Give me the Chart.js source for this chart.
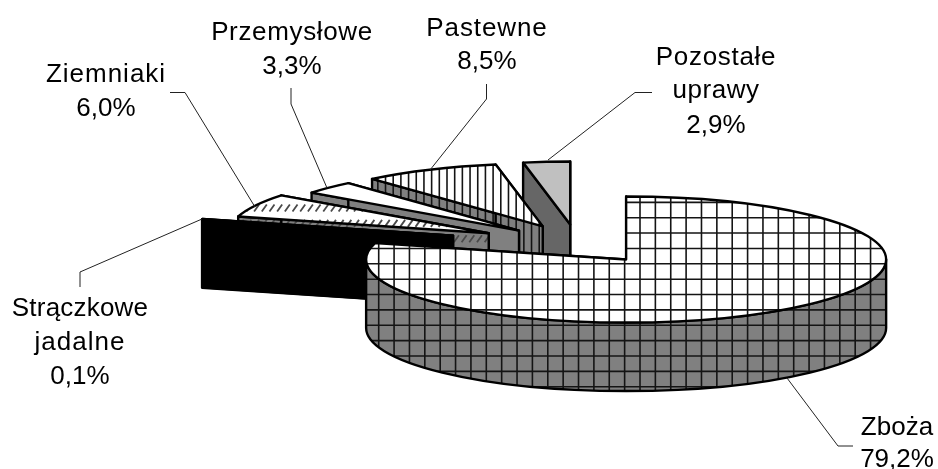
<!DOCTYPE html>
<html><head><meta charset="utf-8">
<style>html,body{margin:0;padding:0;background:#fff}canvas{display:block}</style>
<script src="https://cdn.jsdelivr.net/npm/chart.js@4/dist/chart.umd.js"></script>
</head><body>
<canvas id="c" width="938" height="469"></canvas>
<script>
// Data
const categories = ['Zboża','Strączkowe jadalne','Ziemniaki','Przemysłowe','Pastewne','Pozostałe uprawy'];
const shares = [79.2,0.1,6.0,3.3,8.5,2.9];

// Slice styling
const explosion = [80,129,99,80,80,80];
const topFills  = ['#ffffff','#000000','#ffffff','#ffffff','#ffffff','#c0c0c0'];
const wallFills = ['#808080','#000000','#808080','#808080','#808080','#666666'];
const patterns  = ['grid','none','hatch','none','stripes','none'];

// Label layout: lines after the name, then the value
const labelLines = [['Zboża'],['Strączkowe','jadalne'],['Ziemniaki'],['Przemysłowe'],['Pastewne'],['Pozostałe','uprawy']];
const labelSpacing = [[0],[0.2,1],[1],[0.65],[0.9],[0.7,0.5]];
const labelCenters = [897,80,106,292,487,716];
const labelBaselines = [
  [435,467],[316,350,384],[82,116],[40,74],[36,69],[65,98,133]
];
const leaders = [
  [[787,378],[838,446],[853,446]],
  [[80,287],[80,272],[202,219]],
  [[170,92.5],[185,92.5],[255,207]],
  [[291,88],[291,104],[327,188]],
  [[486.5,84],[486.5,99],[430,170]],
  [[652,92.5],[635,92.5],[548,160]]
];

const RX = 260, RY = 63, DEPTH = 68.5, VK = 64 / 262;
const W = 938, H = 469, GRID = 15.37;

function paintPattern(ctx, kind) {
  ctx.save();
  if (kind === 'grid') {
    ctx.strokeStyle = '#141414'; ctx.lineWidth = 1.6;
    ctx.beginPath();
    for (let x = 640 - 42 * GRID; x < W; x += GRID) { ctx.moveTo(x, 0); ctx.lineTo(x, H); }
    for (let y = 217.7 - 15 * GRID; y < H; y += GRID) { ctx.moveTo(0, y); ctx.lineTo(W, y); }
    ctx.stroke();
  } else if (kind === 'stripes') {
    ctx.strokeStyle = '#141414'; ctx.lineWidth = 1.6;
    ctx.beginPath();
    for (let x = 447 - 58 * GRID / 2; x < W; x += GRID / 2) { ctx.moveTo(x, 0); ctx.lineTo(x, H); }
    ctx.stroke();
  } else if (kind === 'hatch') {
    ctx.strokeStyle = '#4a4a4a'; ctx.lineWidth = 1.8;
    ctx.beginPath();
    for (let y = 208 - 15 * GRID; y < H; y += GRID) {
      for (let x = 3; x < W; x += GRID / 2) {
        ctx.moveTo(x - 2.5, y + 3.5); ctx.lineTo(x + 2.5, y - 3.5);
      }
    }
    ctx.stroke();
  }
  ctx.restore();
}

function face(ctx, path, fill, kind) {
  ctx.save();
  ctx.beginPath(); path(); ctx.fillStyle = fill; ctx.fill();
  ctx.clip();
  paintPattern(ctx, kind);
  ctx.restore();
  ctx.beginPath(); path();
  ctx.strokeStyle = '#000'; ctx.lineWidth = 2.4; ctx.lineJoin = 'round'; ctx.stroke();
}

class Arc3D extends Chart.ArcElement {
  draw(ctx) {
    const p = this.getProps(['x','y','startAngle','endAngle']);
    const i = this.sliceIndex;
    const mid = (p.startAngle + p.endAngle) / 2;
    const X = p.x + Math.cos(mid) * explosion[i];
    const Y = p.y + Math.sin(mid) * explosion[i] * VK;
    const kind = patterns[i];
    const edge = a => [X + Math.cos(a) * RX, Y + Math.sin(a) * RY];
    // radial cut faces
    [p.startAngle, p.endAngle].forEach(a => {
      const e = edge(a);
      face(ctx, () => {
        ctx.moveTo(X, Y); ctx.lineTo(e[0], e[1]);
        ctx.lineTo(e[0], e[1] + DEPTH); ctx.lineTo(X, Y + DEPTH); ctx.closePath();
      }, wallFills[i], kind);
    });
    // outer rim, only where it faces the viewer
    [0, 2 * Math.PI].forEach(k => {
      const lo = Math.max(p.startAngle, k), hi = Math.min(p.endAngle, k + Math.PI);
      if (hi > lo) face(ctx, () => {
        ctx.ellipse(X, Y, RX, RY, 0, lo, hi);
        ctx.ellipse(X, Y + DEPTH, RX, RY, 0, hi, lo, true);
        ctx.closePath();
      }, wallFills[i], kind);
    });
    // top
    face(ctx, () => {
      ctx.moveTo(X, Y);
      ctx.ellipse(X, Y, RX, RY, 0, p.startAngle, p.endAngle);
      ctx.closePath();
    }, topFills[i], kind);
  }
}
Arc3D.id = 'arc3d';
Arc3D.defaults = Object.assign({}, Chart.ArcElement.defaults);
Arc3D.defaultRoutes = Chart.ArcElement.defaultRoutes;

class Pie3D extends Chart.PieController {
  draw() {
    const ctx = this.chart.ctx, els = this._cachedMeta.data;
    for (let i = els.length - 1; i >= 0; i--) { els[i].sliceIndex = i; els[i].draw(ctx); }
  }
}
Pie3D.id = 'pie3d';
Pie3D.defaults = { dataElementType: 'arc3d' };
Chart.register(Arc3D, Pie3D);

const labelPlugin = {
  id: 'outerLabels',
  afterDatasetsDraw(chart) {
    const ctx = chart.ctx;
    ctx.save();
    ctx.strokeStyle = '#222'; ctx.lineWidth = 1;
    leaders.forEach(pts => {
      ctx.beginPath();
      pts.forEach((q, n) => n ? ctx.lineTo(q[0], q[1]) : ctx.moveTo(q[0], q[1]));
      ctx.stroke();
    });
    ctx.fillStyle = '#000';
    ctx.font = '26px "Liberation Sans", Arial, sans-serif';
    ctx.textAlign = 'center'; ctx.textBaseline = 'alphabetic';
    categories.forEach((c, i) => {
      const lines = labelLines[i].concat(shares[i].toFixed(1).replace('.', ',') + '%');
      lines.forEach((t, n) => {
        ctx.letterSpacing = (labelSpacing[i][n] || 0) + 'px';
        ctx.fillText(t, labelCenters[i], labelBaselines[i][n]);
      });
    });
    ctx.restore();
  }
};

new Chart(document.getElementById('c').getContext('2d'), {
  type: 'pie3d',
  data: { labels: categories, datasets: [{ data: shares, borderWidth: 0 }] },
  options: {
    responsive: false,
    animation: false,
    layout: { padding: { left: 217, top: 19, right: 0, bottom: 0 } },
    plugins: { legend: { display: false }, tooltip: { enabled: false } }
  },
  plugins: [labelPlugin]
});
</script>
</body></html>
